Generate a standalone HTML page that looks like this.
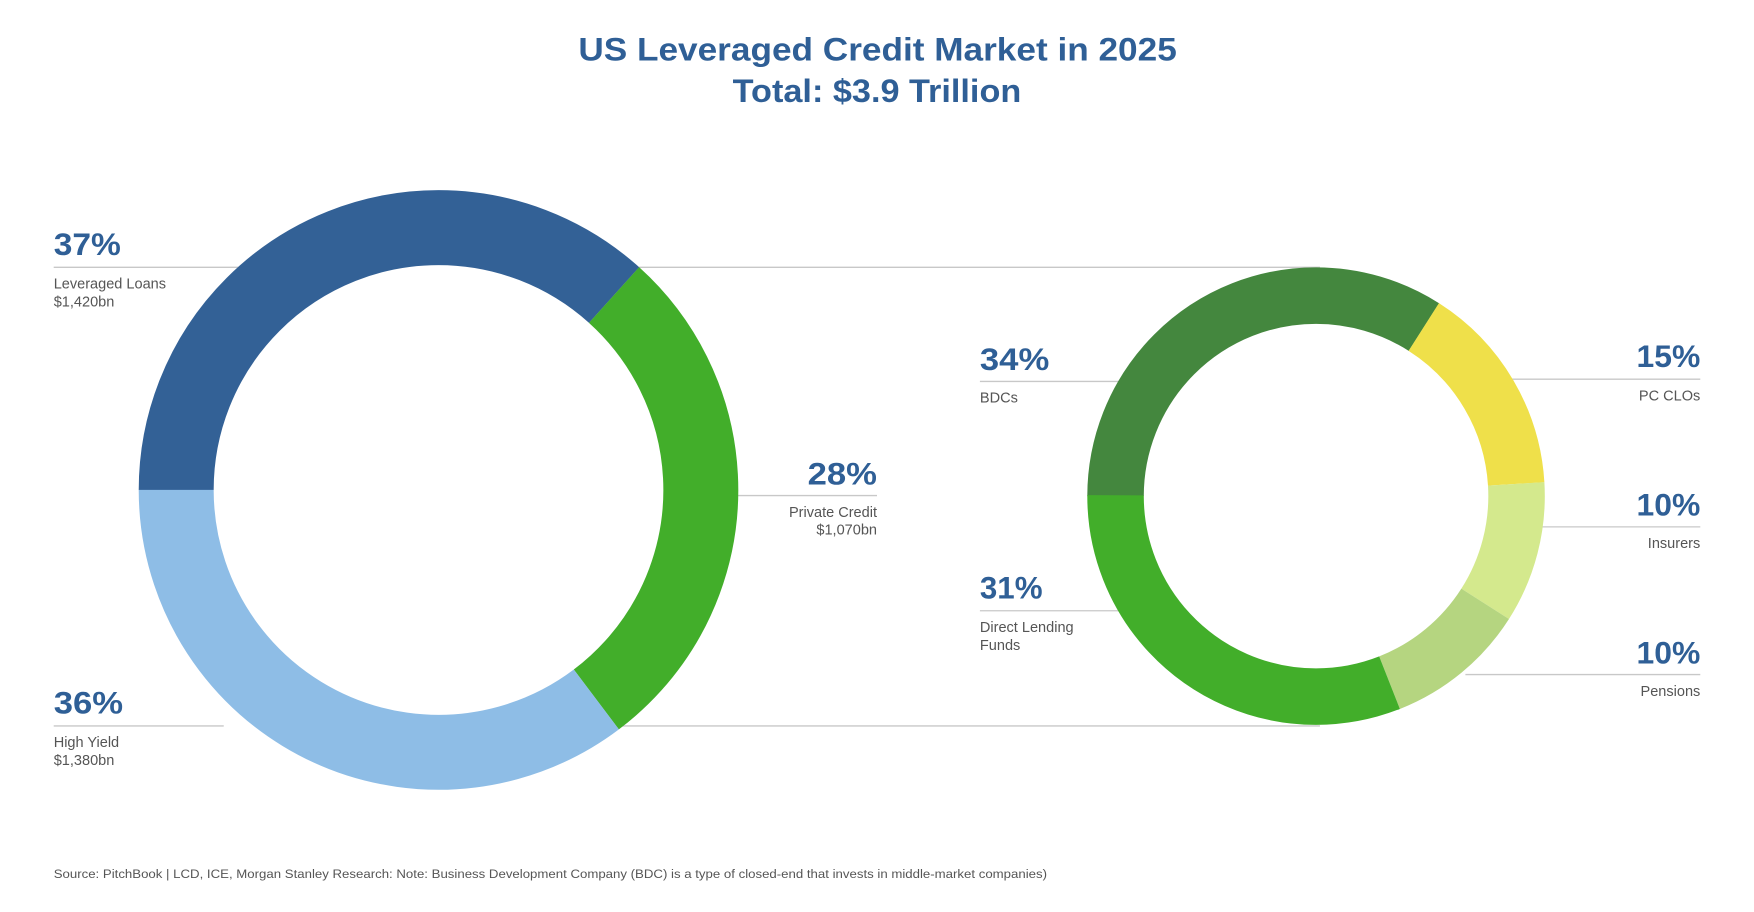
<!DOCTYPE html>
<html><head><meta charset="utf-8"><style>
html,body{margin:0;padding:0;background:#fff;}
svg{display:block;}
text{font-family:"Liberation Sans",sans-serif;}
.p{font-size:28px;font-weight:bold;fill:#2f5f96;}
.l{font-size:13px;fill:#555;}
.ln{stroke:#c8c8c8;stroke-width:1.2;}
</style></head><body>
<svg width="1754" height="912" viewBox="0 0 1568 815.3" xmlns="http://www.w3.org/2000/svg">
<rect width="1568" height="815.3" fill="#fff"/>
<text x="517" y="54" textLength="535" lengthAdjust="spacingAndGlyphs" style="font-size:29px;font-weight:bold;fill:#2f5f96">US Leveraged Credit Market in 2025</text>
<text x="655" y="91" textLength="258" lengthAdjust="spacingAndGlyphs" style="font-size:29px;font-weight:bold;fill:#2f5f96">Total: $3.9 Trillion</text>

<line class="ln" x1="48" y1="239" x2="215" y2="239"/>
<line class="ln" x1="571" y1="239" x2="1180" y2="239"/>
<line class="ln" x1="48" y1="649" x2="200" y2="649"/>
<line class="ln" x1="550" y1="649" x2="1180" y2="649"/>
<line class="ln" x1="655" y1="443" x2="784" y2="443"/>
<line class="ln" x1="876" y1="341" x2="1000" y2="341"/>
<line class="ln" x1="876" y1="546" x2="1000" y2="546"/>
<line class="ln" x1="1350" y1="339" x2="1520" y2="339"/>
<line class="ln" x1="1378" y1="471" x2="1520" y2="471"/>
<line class="ln" x1="1310" y1="603" x2="1520" y2="603"/>

<g fill="none" stroke-width="67">
<circle cx="392" cy="438" r="234.5" stroke="#336196" stroke-dasharray="540.3 2000" transform="rotate(180 392 438)"/>
<circle cx="392" cy="438" r="234.5" stroke="#42ae2a" stroke-dasharray="413.4 2000" transform="rotate(-48 392 438)"/>
<circle cx="392" cy="438" r="234.5" stroke="#8ebde6" stroke-dasharray="519.8 2000" transform="rotate(53 392 438)"/>
</g>
<g fill="none" stroke-width="50.5">
<circle cx="1176.5" cy="443.5" r="179.25" stroke="#44873e" stroke-dasharray="383.2 2000" transform="rotate(180 1176.5 443.5)"/>
<circle cx="1176.5" cy="443.5" r="179.25" stroke="#efe04a" stroke-dasharray="168.9 2000" transform="rotate(-57.5 1176.5 443.5)"/>
<circle cx="1176.5" cy="443.5" r="179.25" stroke="#d4e98d" stroke-dasharray="112.6 2000" transform="rotate(-3.5 1176.5 443.5)"/>
<circle cx="1176.5" cy="443.5" r="179.25" stroke="#b5d580" stroke-dasharray="112.6 2000" transform="rotate(32.5 1176.5 443.5)"/>
<circle cx="1176.5" cy="443.5" r="179.25" stroke="#42ae2a" stroke-dasharray="349.5 2000" transform="rotate(68.5 1176.5 443.5)"/>
</g>

<text class="p" x="48" y="228" textLength="60" lengthAdjust="spacingAndGlyphs">37%</text>
<text class="l" x="48" y="258">Leveraged Loans</text>
<text class="l" x="48" y="274">$1,420bn</text>

<text class="p" x="48" y="638" textLength="62" lengthAdjust="spacingAndGlyphs">36%</text>
<text class="l" x="48" y="668">High Yield</text>
<text class="l" x="48" y="684">$1,380bn</text>

<text class="p" x="722" y="433" textLength="62" lengthAdjust="spacingAndGlyphs">28%</text>
<text class="l" x="784" y="462" text-anchor="end">Private Credit</text>
<text class="l" x="784" y="478" text-anchor="end">$1,070bn</text>

<text class="p" x="876" y="331" textLength="62" lengthAdjust="spacingAndGlyphs">34%</text>
<text class="l" x="876" y="360">BDCs</text>

<text class="p" x="876" y="535" textLength="56" lengthAdjust="spacingAndGlyphs">31%</text>
<text class="l" x="876" y="565">Direct Lending</text>
<text class="l" x="876" y="581">Funds</text>

<text class="p" x="1463" y="328" textLength="57" lengthAdjust="spacingAndGlyphs">15%</text>
<text class="l" x="1520" y="358" text-anchor="end">PC CLOs</text>

<text class="p" x="1463" y="461" textLength="57" lengthAdjust="spacingAndGlyphs">10%</text>
<text class="l" x="1520" y="490" text-anchor="end">Insurers</text>

<text class="p" x="1463" y="593" textLength="57" lengthAdjust="spacingAndGlyphs">10%</text>
<text class="l" x="1520" y="622" text-anchor="end">Pensions</text>

<text x="48" y="785" textLength="888" lengthAdjust="spacingAndGlyphs" style="font-size:11px;fill:#555">Source: PitchBook | LCD, ICE, Morgan Stanley Research: Note: Business Development Company (BDC) is a type of closed-end that invests in middle-market companies)</text>
</svg>
</body></html>
